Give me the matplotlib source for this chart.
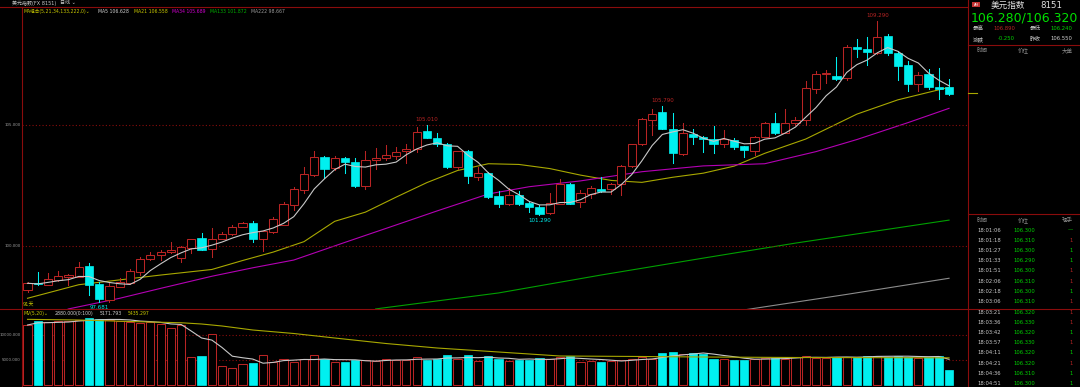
import numpy as np
import pandas as pd
import matplotlib
matplotlib.use('Agg')
import matplotlib.pyplot as plt
from matplotlib.patches import Rectangle

plt.rcParams['font.family'] = ['DejaVu Sans', 'Noto Sans CJK SC']

# 日线数据 (美元指数)
open_ = [98.18, 98.48, 98.40, 98.61, 98.71, 98.73, 99.17, 98.42, 97.77, 98.32,
         98.48, 98.94, 99.45, 99.63, 99.76, 99.49, 99.93, 100.32, 99.86, 100.28,
         100.48, 100.80, 100.96, 100.28, 100.57, 100.87, 101.69, 102.31, 102.93, 103.69,
         103.21, 103.62, 103.47, 102.48, 103.55, 103.62, 103.73, 103.93, 104.00, 104.76,
         104.45, 104.21, 103.28, 103.91, 102.86, 103.03, 102.07, 101.72, 102.09, 101.76,
         101.62, 101.35, 101.74, 102.56, 101.83, 102.15, 102.36, 102.34, 102.56, 103.31,
         104.20, 105.21, 105.52, 104.82, 103.79, 104.63, 104.49, 104.42, 104.21, 104.38,
         104.13, 103.94, 104.52, 105.10, 104.68, 105.07, 105.21, 106.49, 107.10, 107.02,
         106.93, 108.21, 108.13, 107.99, 108.68, 107.99, 107.48, 106.69, 107.09, 106.56,
         106.55]
close = [98.46, 98.41, 98.62, 98.77, 98.79, 99.12, 98.39, 97.80, 98.36, 98.53,
         98.98, 99.45, 99.62, 99.74, 99.83, 99.95, 100.28, 99.83, 100.28, 100.48,
         100.77, 100.96, 100.28, 100.62, 101.10, 101.72, 102.34, 102.96, 103.67, 103.19,
         103.62, 103.47, 102.48, 103.55, 103.65, 103.76, 103.90, 104.01, 104.72, 104.48,
         104.21, 103.28, 103.91, 102.89, 103.00, 102.04, 101.74, 102.09, 101.72, 101.62,
         101.32, 101.76, 102.56, 101.74, 102.18, 102.38, 102.29, 102.56, 103.31, 104.20,
         105.24, 105.45, 104.85, 103.83, 104.66, 104.52, 104.41, 104.21, 104.42, 104.10,
         103.97, 104.49, 105.10, 104.68, 105.10, 105.21, 106.52, 107.09, 107.14, 106.89,
         108.21, 108.15, 108.03, 108.65, 107.96, 107.44, 106.69, 107.07, 106.56, 106.50,
         106.28]
high = [98.52, 98.94, 98.87, 98.95, 98.84, 99.35, 99.28, 98.53, 98.46, 98.67,
        99.04, 99.53, 99.75, 99.83, 100.18, 100.00, 100.30, 100.52, 100.73, 100.59,
        100.87, 101.00, 101.05, 100.64, 101.21, 101.83, 102.45, 103.25, 103.93, 103.72,
        103.72, 103.67, 103.62, 103.94, 104.04, 104.17, 104.10, 104.20, 104.93, 105.01,
        104.66, 104.25, 103.93, 103.95, 103.28, 103.06, 102.29, 102.38, 102.29, 101.80,
        101.70, 102.18, 102.76, 102.62, 102.31, 102.48, 102.86, 102.60, 103.35, 104.23,
        105.28, 105.66, 105.79, 105.51, 105.07, 104.82, 104.55, 104.96, 104.79, 104.45,
        104.15, 104.55, 105.12, 105.51, 105.65, 105.32, 106.82, 107.23, 107.27, 107.82,
        108.31, 108.55, 108.62, 109.29, 108.76, 108.05, 107.66, 107.20, 107.30, 107.34,
        106.89]
low = [98.11, 98.38, 98.37, 98.57, 98.39, 98.71, 97.98, 97.681, 97.70, 98.30,
       98.45, 98.80, 99.42, 99.42, 99.70, 99.35, 99.72, 99.82, 99.56, 100.27,
       100.45, 100.78, 100.18, 99.81, 100.55, 100.85, 101.49, 102.18, 102.90, 102.80,
       103.14, 103.00, 102.43, 102.34, 103.17, 103.55, 103.58, 103.42, 103.90, 104.45,
       104.13, 103.21, 103.17, 102.62, 102.73, 101.99, 101.62, 101.70, 101.68, 101.42,
       101.29, 101.31, 101.72, 101.72, 101.62, 101.97, 102.25, 102.15, 102.11, 103.28,
       104.17, 104.59, 104.82, 103.42, 103.77, 104.21, 103.90, 103.86, 104.10, 104.00,
       103.66, 103.76, 104.50, 104.63, 104.65, 105.00, 105.00, 106.33, 106.72, 106.86,
       106.86, 107.82, 107.48, 107.95, 107.90, 106.86, 106.40, 106.40, 106.48, 106.06,
       106.24]
volume = [12000, 12870, 12530, 12730, 12870, 13000, 13470, 13200, 13000, 12870,
          12530, 12330, 12670, 12200, 11330, 12000, 5670, 5800, 10130, 3870,
          3330, 4130, 4470, 6000, 4670, 5130, 4600, 5130, 5930, 5200,
          4530, 4530, 5000, 5000, 4800, 5200, 5000, 5100, 5600, 5000,
          5300, 6000, 5200, 6000, 4800, 5800, 5200, 4900, 5000, 5100,
          5400, 5200, 5600, 5800, 4600, 4800, 4700, 4900, 5000, 5300,
          5600, 5200, 6400, 6600, 6300, 6500, 6200, 5300, 5200, 5100,
          5000, 5200, 5400, 5500, 5300, 5600, 5800, 5500, 5400, 5600,
          5700, 5600, 5800, 5900, 5700, 5800, 5600, 5500, 5700, 5900,
          3000]

# 均线读数 (K线序号, 数值)
ma21_i = [0, 5, 9, 13, 18, 21, 24, 27, 30, 33, 36, 39, 42, 45, 48, 51, 54, 57, 60,
          63, 66, 69, 72, 76, 81, 85, 90]
ma21_v = [97.84, 98.40, 98.60, 98.80, 99.03, 99.40, 99.75, 100.18, 101.02, 101.40,
          102.02, 102.62, 103.12, 103.40, 103.37, 103.20, 102.93, 102.71, 102.63,
          102.84, 103.01, 103.30, 103.83, 104.42, 105.45, 106.04, 106.558]
ma34_i = [3, 4, 9, 13, 18, 22, 26, 31, 36, 40, 45, 49, 54, 60, 66, 72, 77, 81, 86, 90]
ma34_v = [97.20, 97.40, 97.84, 98.25, 98.75, 99.10, 99.42, 100.15, 100.87, 101.45,
          102.15, 102.45, 102.69, 103.07, 103.31, 103.40, 103.90, 104.40, 105.10, 105.689]
ma133_i = [34, 46, 56, 66, 75, 90]
ma133_v = [97.40, 98.06, 98.80, 99.50, 100.12, 101.07]
ma222_i = [70, 80, 90]
ma222_v = [97.36, 98.00, 98.667]
mv20_i = [0, 5, 10, 15, 17, 19, 22, 26, 30, 35, 40, 46, 52, 60, 66, 75, 90]
mv20_v = [13130, 13000, 12700, 12450, 12200, 11800, 11000, 10300, 9400, 8300,
          7400, 6600, 5800, 5700, 5600, 5500, 5435]

# 分笔成交
tick_time = ['18:01:06', '18:01:18', '18:01:27', '18:01:33', '18:01:51', '18:02:06',
             '18:02:18', '18:03:06', '18:03:21', '18:03:36', '18:03:42', '18:03:57',
             '18:04:11', '18:04:21', '18:04:36', '18:04:51']
tick_price = ['106.300', '106.310', '106.300', '106.290', '106.300', '106.310',
              '106.300', '106.310', '106.320', '106.330', '106.320', '106.330',
              '106.320', '106.320', '106.310', '106.300']
tick_hand = ['—', '1', '1', '1', '1', '1', '1', '1', '1', '1', '1', '1', '1', '1', '1', '1']
tick_up = [False, True, False, False, True, True, False, True, True, True, False, True,
           False, True, False, False]

RED = '#b82424'
CYAN = '#00f0f0'
FRAME = '#8a0c0c'
W, H = 1080, 387

fig = plt.figure(figsize=(W / 100, H / 100), dpi=100, facecolor='black')


def fx(px):
    return px / W


def fy(py):
    return 1 - py / H


n = len(close)
idx = np.arange(n)
x_left = -0.54
x_right = 91.85

# 主图
ax = fig.add_axes([fx(22), fy(309), fx(946), 301 / H])
ax.set_facecolor('black')
ax.set_xlim(x_left, x_right)
ax.set_ylim(97.397, 109.835)
ax.axis('off')
for lv in [105, 100]:
    ax.axhline(lv, color=FRAME, lw=0.8, ls=(0, (1, 2)))

bw = 0.8
for i in idx:
    o, c, h, l = open_[i], close[i], high[i], low[i]
    if c >= o:
        ax.add_patch(Rectangle((i - bw / 2, o), bw, max(c - o, 0.02), facecolor='black',
                               edgecolor=RED, lw=0.75, zorder=3))
        ax.plot([i, i], [c, h], color=RED, lw=0.75, zorder=2)
        ax.plot([i, i], [l, o], color=RED, lw=0.75, zorder=2)
    else:
        ax.plot([i, i], [l, h], color=CYAN, lw=0.75, zorder=2)
        ax.add_patch(Rectangle((i - bw / 2, c), bw, max(o - c, 0.03), facecolor=CYAN,
                               edgecolor=CYAN, lw=0.5, zorder=3))

ma5 = pd.Series(close).rolling(5, min_periods=1).mean()
ax.plot(idx, ma5, color='#c8c8c8', lw=0.8, zorder=4)
ax.plot(ma21_i, ma21_v, color='#a8a800', lw=0.8, zorder=1)
ax.plot(ma34_i, ma34_v, color='#b400b4', lw=0.8, zorder=1)
ax.plot(ma133_i, ma133_v, color='#00a000', lw=0.8, zorder=1)
ax.plot(ma222_i, ma222_v, color='#8c8c8c', lw=0.8, zorder=1)

# 高低点标注
imax = int(np.argmax(high))
imin = int(np.argmin(low))
for i, txt, col, dy in [(imax, '%.3f' % high[imax], RED, 2),
                        (39, '%.3f' % high[39], RED, 2),
                        (62, '%.3f' % high[62], RED, 2),
                        (imin, '%.3f' % low[imin], CYAN, -2),
                        (50, '%.3f' % low[50], CYAN, -2)]:
    yv = high[i] if dy > 0 else low[i]
    ax.annotate(txt, (i, yv), xytext=(0, dy), textcoords='offset points',
                ha='center', va='bottom' if dy > 0 else 'top', color=col, fontsize=4.0)

# 成交量
axv = fig.add_axes([fx(22), 0, fx(946), (387 - 309) / H])
axv.set_facecolor('black')
axv.set_xlim(x_left, x_right)
axv.set_ylim(-400, 15200)
axv.axis('off')
for lv in [10000, 5000]:
    axv.axhline(lv, color=FRAME, lw=0.8, ls=(0, (1, 2)))
for i in idx:
    if close[i] >= open_[i]:
        axv.add_patch(Rectangle((i - bw / 2, 0), bw, volume[i], facecolor='black',
                                edgecolor=RED, lw=0.75, zorder=3))
    else:
        axv.add_patch(Rectangle((i - bw / 2, 0), bw, volume[i], facecolor=CYAN,
                                edgecolor=CYAN, lw=0.5, zorder=3))
mv5 = pd.Series(volume).rolling(5, min_periods=1).mean()
axv.plot(idx, mv5, color='#c8c8c8', lw=0.8, zorder=4)
axv.plot(mv20_i, mv20_v, color='#a8a800', lw=0.8, zorder=4)


# 边框线
def hline(y, x0, x1, col=FRAME, lw=0.8):
    fig.add_artist(plt.Line2D([fx(x0), fx(x1)], [fy(y), fy(y)], color=col, lw=lw))


def vline(x, y0, y1, col=FRAME, lw=0.8):
    fig.add_artist(plt.Line2D([fx(x), fx(x)], [fy(y0), fy(y1)], color=col, lw=lw))


hline(7, 0, 968)
hline(309, 0, 1080)
vline(22, 7, 387)
vline(968, 0, 387)
hline(45, 968, 1080)
hline(214, 968, 1080)
hline(93, 968, 977, col='#a8a800')

# 左侧刻度
for y, t in [(125, '105.000'), (246, '100.000'), (335, '10000.000'), (360, '5000.000')]:
    fig.text(fx(20.5), fy(y), t, color='#9a9a9a', fontsize=2.9, ha='right', va='center')

# 顶部标题
fig.text(fx(12), fy(3), '美元指数(FX 8151)', color='#c8c8c8', fontsize=3.6, va='center')
fig.text(fx(60), fy(3), '日线 ⌄', color='#c8c8c8', fontsize=3.6, va='center')
legend_items = [(24, 'MA组合(5,21,34,133,222,0)⌄', '#c8c800'),
                (98, 'MA5 106.628', '#d0d0d0'),
                (134, 'MA21 106.558', '#c8c800'),
                (172, 'MA34 105.689', '#d000d0'),
                (210, 'MA133 101.872', '#00b000'),
                (251, 'MA222 98.667', '#9a9a9a')]
for x, t, c in legend_items:
    fig.text(fx(x), fy(11.5), t, color=c, fontsize=3.3, va='center')
fig.text(fx(23), fy(304.5), '91天', color='#c8c800', fontsize=3.6, va='center')
for x, t, c in [(24, 'MV(5,20)⌄', '#c8c800'), (55, '2880.000(0:100)', '#d0d0d0'),
                (100, '5171.793', '#d0d0d0'), (128, '5435.297', '#c8c800')]:
    fig.text(fx(x), fy(313.5), t, color=c, fontsize=3.3, va='center')

# 右侧报价栏
fig.add_artist(Rectangle((fx(972), fy(7)), fx(8), 5 / H, facecolor='#c03030',
                         edgecolor='none'))
fig.text(fx(976), fy(4.5), 'AH', color='white', fontsize=2.5, ha='center', va='center')
fig.text(fx(991), fy(5.5), '美元指数', color='#e0e0e0', fontsize=6.2, va='center')
fig.text(fx(1040), fy(5.5), '8151', color='#e0e0e0', fontsize=6.2, va='center')
fig.text(fx(971), fy(18), '106.280/106.320', color='#00e000', fontsize=9, va='center')
GREEN = '#00d000'
rows = [(29, '最高', '106.890', RED, '最低', '106.240', GREEN),
        (39, '涨跌', '-0.250', GREEN, '昨收', '106.550', '#d0d0d0')]
for y, a, b, bc, c, d, dc in rows:
    fig.text(fx(973), fy(y), a, color='#c8c8c8', fontsize=4, va='center')
    fig.text(fx(1015), fy(y), b, color=bc, fontsize=3.8, va='center', ha='right')
    fig.text(fx(1030), fy(y), c, color='#c8c8c8', fontsize=4, va='center')
    fig.text(fx(1072), fy(y), d, color=dc, fontsize=3.8, va='center', ha='right')
for y, labels in [(50, ['时间', '价位', '大单']), (220.5, ['时间', '价位', '现手'])]:
    fig.text(fx(977), fy(y), labels[0], color='#8c8c8c', fontsize=4, va='center')
    fig.text(fx(1018), fy(y), labels[1], color='#8c8c8c', fontsize=4, va='center')
    fig.text(fx(1073), fy(y), labels[2], color='#8c8c8c', fontsize=4, va='center', ha='right')

for k in range(len(tick_time)):
    y = 230 + k * 10.25
    fig.text(fx(977), fy(y), tick_time[k], color='#c8c8c8', fontsize=3.8, va='center')
    fig.text(fx(1013), fy(y), tick_price[k], color=GREEN, fontsize=3.8, va='center')
    hc = RED if tick_up[k] else GREEN
    fig.text(fx(1073), fy(y), tick_hand[k], color=hc, fontsize=3.8, va='center', ha='right')

fig.savefig('out.png', dpi=100, facecolor='black')
